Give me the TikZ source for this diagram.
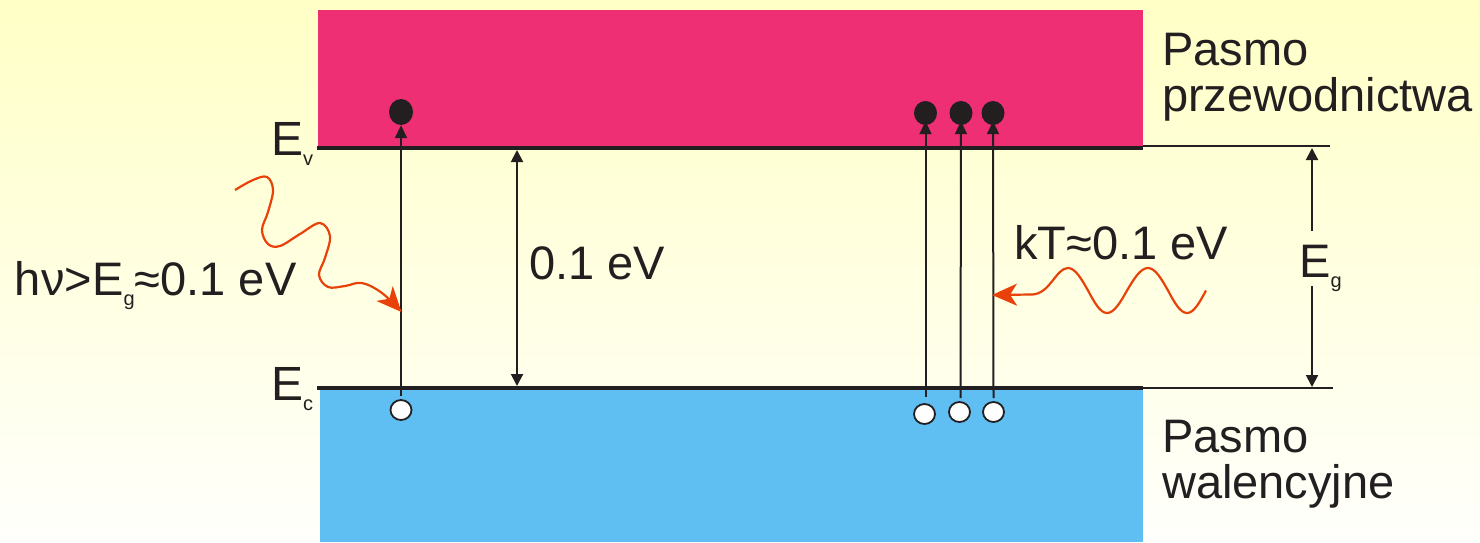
\documentclass[tikz,border=0pt]{standalone}
\usepackage{fontspec}
\setmainfont{Liberation Sans}
\usetikzlibrary{arrows.meta,shapes.geometric}
\definecolor{bgtop}{RGB}{255,255,198}
\definecolor{bgbot}{RGB}{255,255,252}
\definecolor{pinkband}{RGB}{238,47,115}
\definecolor{blueband}{RGB}{95,190,242}
\definecolor{ink}{RGB}{35,31,32}
\definecolor{wavered}{RGB}{232,65,10}
\newcommand\mysub[1]{\raisebox{-10pt}{\fontsize{20}{20}\selectfont #1}}
\tikzset{
  lbl/.style={inner sep=0pt,anchor=base west,text=ink,font=\fontsize{47}{47}\selectfont},
  lvl/.style={lbl,font=\fontsize{48}{48}\selectfont},
  electron/.style={ellipse,fill=ink,draw=none,minimum width=23pt,minimum height=24pt,inner sep=0pt},
  hole/.style={ellipse,fill=white,draw=ink,line width=1.8pt,minimum width=21pt,minimum height=20pt,inner sep=0pt},
  trans/.style={draw=ink,line width=2pt,-{Triangle[length=13pt,width=12pt]}},
  dimarr/.style={draw=ink,line width=2pt,{Triangle[length=12pt,width=12pt]}-{Triangle[length=12pt,width=12pt]}},
  halfarr/.style={draw=ink,line width=2pt,-{Triangle[length=12pt,width=12pt]}},
  thick level/.style={draw=ink,line width=4pt},
  thin level/.style={draw=ink,line width=1.6pt},
  wave/.style={draw=wavered,line width=2.2pt},
}
\begin{document}
\begin{tikzpicture}[x=1pt,y=-1pt]
\useasboundingbox (0,0) rectangle (1480,542);
\shade[top color=bgtop,bottom color=bgbot,middle color=bgbot!50!bgtop] (0,0) rectangle (1480,542);
% bands
\fill[pinkband] (318,10) rectangle (1143,148);
\fill[blueband] (320,388) rectangle (1143,542);
% levels
\coordinate (EvL) at (317,148);
\coordinate (EvR) at (1143,148);
\coordinate (EvX) at (1330,146);
\coordinate (EcL) at (317,388);
\coordinate (EcR) at (1143,388);
\coordinate (EcX) at (1333,388);
\draw[thick level] (EvL) -- (EvR);
\draw[thick level] (EcL) -- (EcR);
\draw[thin level] (1143,146) -- (EvX);
\draw[thin level] (1143,388) -- (EcX);
% level labels
\node[lvl] (Ev) at (271,155) {E\mysub{v}};
\node[lvl] (Ec) at (271,400) {E\mysub{c}};
% band names
\node[lbl,font=\fontsize{47}{43}\selectfont] (cb) at (1162,65)
  {\begin{tabular}[t]{@{}l@{}}Pasmo\\przewodnictwa\end{tabular}};
\node[lbl,font=\fontsize{47}{40}\selectfont] (vb) at (1162,452)
  {\begin{tabular}[t]{@{}l@{}}Pasmo\\walencyjne\end{tabular}};
% electrons and holes
\node[electron,minimum height=26pt,minimum width=24pt] (e1) at (401,112) {};
\node[electron] (e2) at (925.5,113) {};
\node[electron] (e3) at (961,113) {};
\node[electron] (e4) at (993,113) {};
\node[hole] (h1) at (401,410) {};
\node[hole] (h2) at (924.5,414) {};
\node[hole] (h3) at (959.5,412) {};
\node[hole] (h4) at (993.5,412) {};
% transitions
\draw[trans] (401,396) -- (e1.south);
\draw[trans] (925.5,397) -- ([yshift=4pt]e2.south);
\draw[trans] (960.5,398) -- ([yshift=4pt]e3.south);
\draw[trans] (993.5,398) -- ([yshift=4pt]e4.south);
% 0.1 eV gap
\coordinate (gT) at (517,150);
\coordinate (gB) at (517,386);
\draw[dimarr] (gT) -- (gB);
\node[lbl] (gap) at (529,279) {0.1 eV};
% Eg
\node[lbl] (Eg) at (1299,277) {E\mysub{g}};
\coordinate (egT) at (1312,148);
\coordinate (egB) at (1312,387);
\coordinate (egA) at (1312,231);
\coordinate (egC) at (1312,286);
\draw[halfarr] (egA) -- (egT);
\draw[halfarr] (egC) -- (egB);
% labels
\node[lbl] (hv) at (14,295) {h\kern1ptν>E\mysub{g}≈0.1 eV};
\node[lbl] (kT) at (1014,259) {kT≈0.1 eV};
% left photon
\coordinate (hitL) at (401.5,312);
\draw[wave,-{Stealth[length=25pt,width=22pt,inset=7pt]}] plot[smooth,tension=0.6] coordinates {
 (235,190) (253,180) (267,177) (273,190) (268,212) (262,230) (268,244) (280,246) (300,234) (320,223) (330,236) (325,258) (319,275) (328,287) (345,286) (362,283) (382,293) (hitL)};
% right thermal wave
\coordinate (hitR) at (992,295);
\draw[wave,{Stealth[length=25pt,width=22pt,inset=7pt]}-] (hitR) -- (1032,294.5)
  .. controls (1050,294) and (1056,268) .. (1068,268)
  cos ++(20,22.5) sin ++(19,22.5) cos ++(20,-22.5) sin ++(21,-22.5)
  cos ++(20,22.5) sin ++(19,22.5) cos ++(19,-22.5);
\end{tikzpicture}
\end{document}
